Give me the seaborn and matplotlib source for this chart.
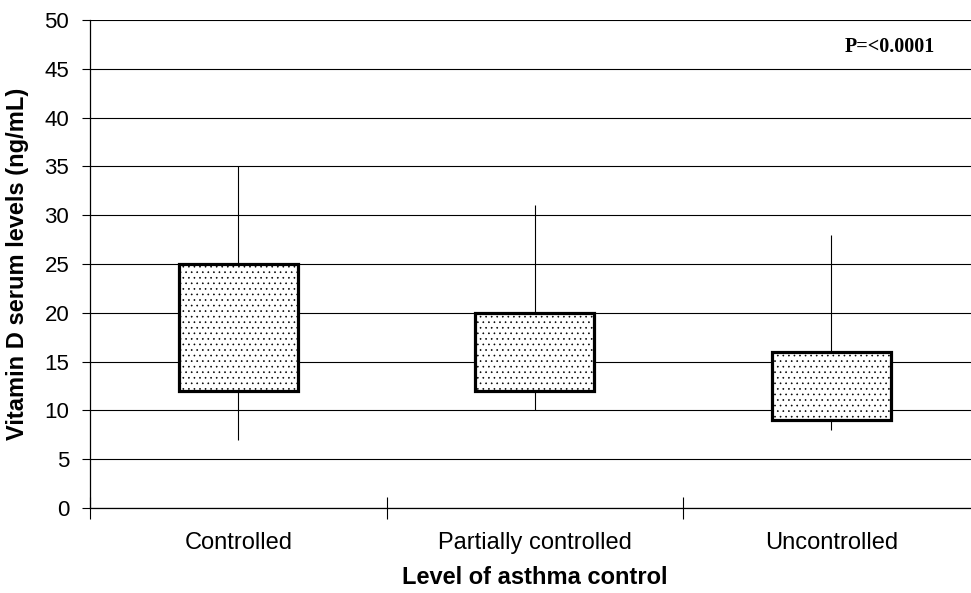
import matplotlib
matplotlib.use("Agg")
import matplotlib.pyplot as plt
import seaborn as sns
import pandas as pd
import numpy as np

categories = ["Controlled", "Partially controlled", "Uncontrolled"]
q1 = [12, 12, 9]
q3 = [25, 20, 16]
whisker_low = [7, 10, 8]
whisker_high = [35, 31, 28]

sns.set_theme(style="white")
plt.rcParams["font.family"] = ["Liberation Sans", "DejaVu Sans"]
plt.rcParams["text.color"] = "black"
plt.rcParams["axes.labelcolor"] = "black"
plt.rcParams["xtick.color"] = "black"
plt.rcParams["ytick.color"] = "black"
plt.rcParams["hatch.color"] = "#555555"
plt.rcParams["hatch.linewidth"] = 0.45

df = pd.DataFrame({"cat": categories,
                   "height": np.array(q3) - np.array(q1),
                   "bottom": q1})

fig = plt.figure(figsize=(9.71, 5.93), dpi=100)
ax = fig.add_axes([90 / 971, 85 / 593, 889.5 / 971, 488 / 593])

# whiskers (behind boxes)
xs = np.arange(len(categories))
ax.vlines(xs, whisker_low, whisker_high, color="black", lw=0.8, zorder=2)

sns.barplot(data=df, x="cat", y="height", bottom=df["bottom"].values, ax=ax,
            width=0.4, color="white", edgecolor="black", linewidth=2.3,
            hatch="...", zorder=3)

ax.set_xlim(-0.5, 2.5)
ax.set_ylim(0, 50)
ax.set_yticks(np.arange(0, 51, 5))
ax.yaxis.grid(True, color="black", lw=0.8)
ax.set_axisbelow(True)
for s in ["top", "right"]:
    ax.spines[s].set_visible(False)
for s in ["left", "bottom"]:
    ax.spines[s].set_color("black")
    ax.spines[s].set_linewidth(0.9)

ax.tick_params(axis="y", which="major", direction="out", length=6, width=0.8,
               labelsize=16, left=True, pad=9)
ax.tick_params(axis="x", which="major", length=0, labelsize=17, pad=17.5)
ax.set_xticks([-0.5, 0.5, 1.5], minor=True)
ax.tick_params(axis="x", which="minor", direction="inout", length=16, width=0.8,
               bottom=True)

ax.set_xlabel("Level of asthma control", fontsize=17, fontweight="bold")
ax.xaxis.set_label_coords(0.5, -(577 - 508) / 488)
ax.xaxis.label.set_va("center")
ax.set_ylabel("Vitamin D serum levels (ng/mL)", fontsize=17, fontweight="bold")
ax.yaxis.set_label_coords(-(90 - 18) / 889.5, 0.5)
ax.yaxis.label.set_va("center")

ax.text((890 - 90) / 889.5, (508 - 47) / 488, "P=<0.0001", transform=ax.transAxes,
        ha="center", va="center", fontsize=14.5, fontweight="bold",
        family=["Liberation Serif", "DejaVu Serif"])

fig.savefig("out.png", dpi=100)
